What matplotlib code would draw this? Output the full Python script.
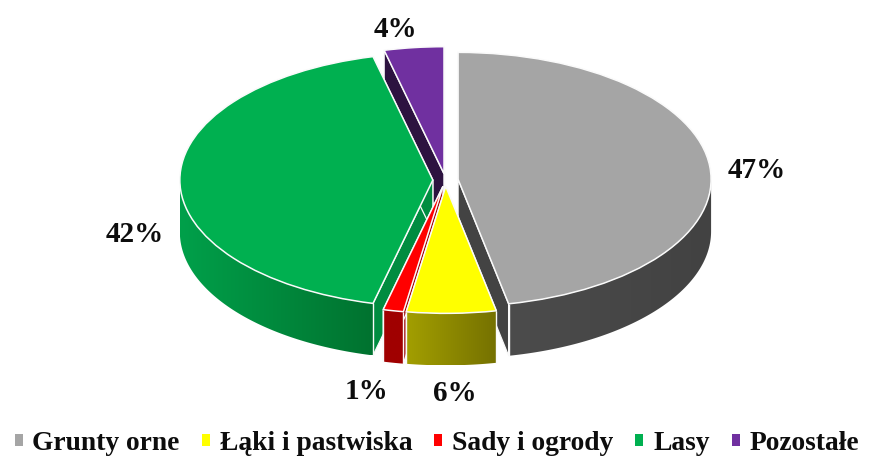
import numpy as np
import matplotlib
matplotlib.use("Agg")
import matplotlib.pyplot as plt
from matplotlib.patches import Polygon, Patch
from matplotlib.colors import to_rgb

categories = ["Grunty orne", "Łąki i pastwiska", "Sady i ogrody", "Lasy", "Pozostałe"]
values = [46.8, 5.7, 1.3, 42.4, 3.8]

top_colors = ["#a5a5a5", "#ffff00", "#ff0000", "#00b050", "#7030a0"]
inner_wall = ["#434343", "#808000", "#a00000", "#008c40", "#2d1340"]
wall_left = ["#4c4c4c", "#a39f00", "#a00000", "#00a04a", "#2d1340"]
wall_right = ["#424242", "#757100", "#a00000", "#00722f", "#2d1340"]
label_offsets = [(47, -4), (3, -80), (-27, -81), (-45.5, -55), (-18.5, 18)]
paint_order = [4, 0, 3, 2, 1]

W, H = 869, 459
CX, CY, RX, RY = 445.5, 180.0, 253.0, 127.0
DEPTH = 52.0 / RY
EXPLODE = 0.05
EDGE = "#fafafa"

plt.rcParams["font.family"] = ["Liberation Serif", "DejaVu Serif"]
plt.rcParams["font.weight"] = "bold"

fig = plt.figure(figsize=(W / 100, H / 100), dpi=100)
ax = fig.add_axes([0, 0, 1, 1])
wedges, _ = ax.pie(values, explode=[EXPLODE] * len(values), colors=top_colors,
                   startangle=90, counterclock=False,
                   wedgeprops=dict(edgecolor=EDGE, linewidth=1.1))
ax.set_aspect("auto")
xlim = (-CX / RX, (W - CX) / RX)
ylim = ((CY - H) / RY, CY / RY)


def front_arc(a0, a1):
    """Part of a clockwise-from-top span lying on the near half of the rim."""
    lo, hi = max(a0, 90.0), min(a1, 270.0)
    return (lo, hi) if hi > lo else None


total = sum(values)
start = 0.0
for rank, i in enumerate(paint_order):
    wedges[i].set_zorder(2 * rank + 2)

for i, v in enumerate(values):
    end = start + 360.0 * v / total
    mid = np.radians((start + end) / 2)
    ox, oy = EXPLODE * np.sin(mid), EXPLODE * np.cos(mid)
    z = 2 * paint_order.index(i) + 1

    # radial walls
    for ang in (start, end):
        t = np.radians(ang)
        ex, ey = ox + np.sin(t), oy + np.cos(t)
        ax.add_patch(Polygon([(ox, oy), (ex, ey), (ex, ey - DEPTH), (ox, oy - DEPTH)],
                             closed=True, facecolor=inner_wall[i], edgecolor=EDGE,
                             linewidth=0.9, zorder=z))

    # rim wall, shaded left to right
    arc = front_arc(start, end)
    if arc:
        angs = np.radians(np.linspace(arc[0], arc[1], 120))
        xs, ys = ox + np.sin(angs), oy + np.cos(angs)
        xmin, xmax = xs.min(), xs.max()
        ramp = np.linspace(0, 1, 256)[None, :, None]
        c0, c1 = np.array(to_rgb(wall_left[i])), np.array(to_rgb(wall_right[i]))
        img = c0[None, None, :] + (c1 - c0)[None, None, :] * ramp
        outline = np.vstack([np.column_stack([xs, ys]),
                             np.column_stack([xs[::-1], ys[::-1] - DEPTH])])
        poly = Polygon(outline, closed=True, facecolor="none", edgecolor="none",
                       transform=ax.transData)
        ax.add_patch(poly)
        im = ax.imshow(img, extent=(xmin, xmax, ys.min() - DEPTH, ys.max()), aspect="auto",
                       origin="lower", interpolation="bilinear", zorder=z)
        im.set_clip_path(poly)
        # white corner lines only where a slice edge meets the rim, not at the silhouette
        for ang, x, y in ((arc[0], xs[0], ys[0]), (arc[1], xs[-1], ys[-1])):
            if ang not in (90.0, 270.0):
                ax.plot([x, x], [y, y - DEPTH], color=EDGE, lw=1.0, zorder=z,
                        solid_capstyle="butt")

    # value label
    rim_x = ox + np.sin(mid)
    rim_y = oy + np.cos(mid)
    ax.annotate(f"{round(v / total * 100)}%", xy=(rim_x, rim_y),
                xytext=label_offsets[i], textcoords="offset pixels",
                ha="center", va="center", fontsize=21, fontweight="bold",
                color="#0d0d0d", zorder=30)
    start = end

ax.set_xlim(xlim)
ax.set_ylim(ylim)

handles = [Patch(facecolor=c, edgecolor="none") for c in top_colors]
fig.legend(handles, categories, loc="lower center", bbox_to_anchor=(0.5028, -0.036), ncol=5,
           frameon=False, fontsize=19.8, handlelength=0.29, handleheight=0.29,
           handletextpad=0.36, columnspacing=0.8, borderpad=0.2, labelcolor="#0d0d0d")

fig.savefig("out.png", dpi=100)
